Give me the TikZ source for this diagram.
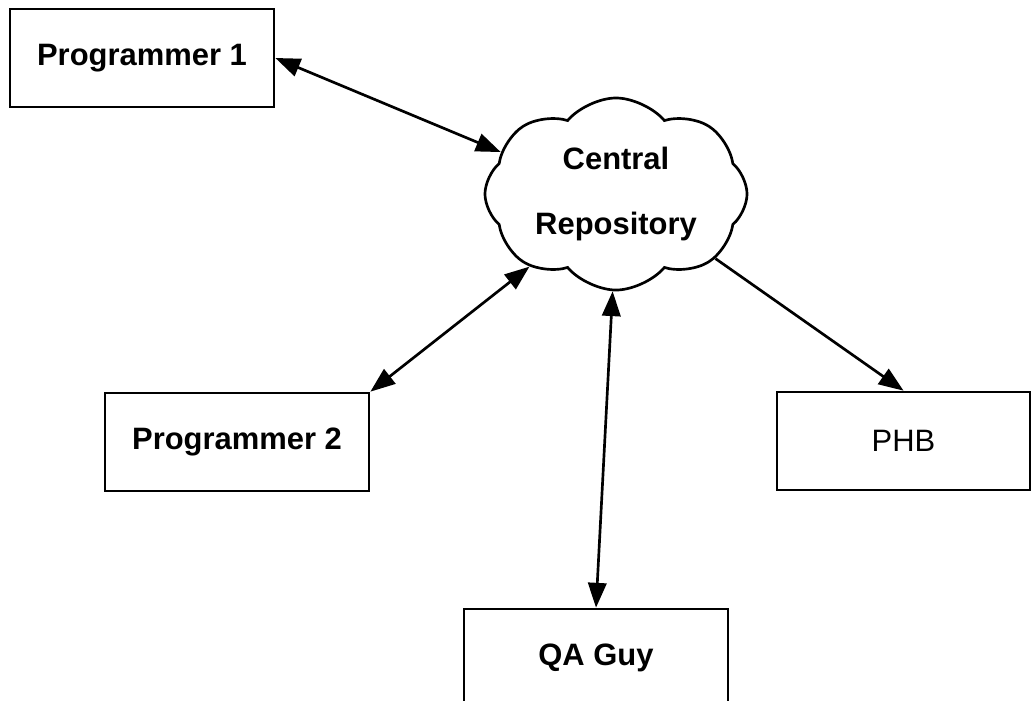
\documentclass[tikz,border=0pt]{standalone}
\usepackage{fontspec}
\setmainfont{Liberation Sans}
\usetikzlibrary{shapes.symbols,arrows.meta}

\begin{document}
\begin{tikzpicture}[x=0.025cm,y=-0.025cm,line width=1.9pt,
  every node/.style={font=\fontsize{22}{46}\selectfont\bfseries},
  box/.style={draw,rectangle,minimum width=6.6cm,minimum height=2.45cm,inner sep=0pt},
  repo/.style={draw,cloud,cloud puffs=8,cloud puff arc=100,cloud ignores aspect,
    minimum width=6.55cm,minimum height=4.8cm,align=center,inner sep=0pt},
  tip/.tip={Triangle[length=0.62cm,width=0.46cm]},
  link/.style={tip-tip},
  feed/.style={-tip}]

% the page
\useasboundingbox (0,0) rectangle (1031,700);

% the repository
\node[repo] (repo) at (616,194) {Central\\Repository};

% the people
\node[box] (prog1) at (142,58) {Programmer 1};
\node[box] (prog2) at (237,442) {Programmer 2};
\node[box,minimum width=6.325cm,font=\fontsize{22}{26}\selectfont] (phb) at (903.5,441) {PHB};
\node[box] (qa) at (596,658) {QA Guy};

% the links
\draw[link] (prog1.east) -- (repo.160);
\draw[link] (prog2.north east) -- (repo.220);
\draw[link] (qa.north) -- (repo.268);
\draw[feed] (repo.327) -- (phb.north);

\end{tikzpicture}
\end{document}
